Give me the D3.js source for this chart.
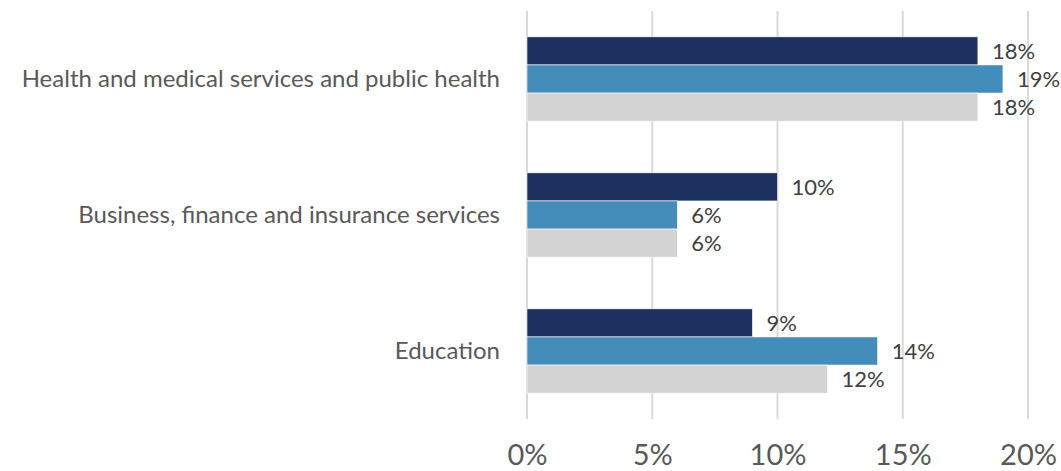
<!DOCTYPE html>
<html>
<head>
<meta charset="utf-8">
<script src="https://cdn.jsdelivr.net/npm/d3@7"></script>
<style>
  html, body { margin: 0; padding: 0; background: #ffffff; }
  svg { display: block; font-family: Lato, "Open Sans", sans-serif; }
</style>
</head>
<body>
<svg id="chart" width="1061" height="471"></svg>
<script>
const categories = ["Health and medical services and public health", "Business, finance and insurance services", "Education"];
const seriesNames = ["Series A", "Series B", "Series C"];
const seriesA = [18, 10, 9];
const seriesB = [19, 6, 14];
const seriesC = [18, 6, 12];
const tickValues = [0, 5, 10, 15, 20];
const colors = ["#1c3160", "#448dba", "#d3d3d3"];

const series = [seriesA, seriesB, seriesC];
const data = categories.map((c, i) => ({ category: c, values: series.map((s, j) => ({ key: seriesNames[j], value: s[i], idx: j })) }));

const svg = d3.select("#chart");
const margin = { top: 11, right: 33, bottom: 52, left: 527 };
const width = 1061 - margin.left - margin.right;
const height = 471 - margin.top - margin.bottom;

const g = svg.append("g").attr("transform", `translate(${margin.left},${margin.top})`);

const x = d3.scaleLinear().domain([0, 20]).range([0, 501]);
const y0 = d3.scaleBand().domain(categories).range([0, height]).paddingInner(0.38).paddingOuter(0.19);
const y1 = d3.scaleBand().domain(seriesNames).range([0, y0.bandwidth()]);

// gridlines
g.append("g").selectAll("line").data(tickValues).join("line")
  .attr("x1", d => x(d)).attr("x2", d => x(d))
  .attr("y1", 0).attr("y2", height)
  .attr("stroke", "#d9d9d9").attr("stroke-width", 2);

// x axis labels
const xAxis = d3.axisBottom(x).tickValues(tickValues).tickFormat(d => d + "%").tickSize(0).tickPadding(25);
const ax = g.append("g").attr("transform", `translate(0,${height})`).call(xAxis);
ax.select(".domain").remove();
ax.selectAll("text").attr("fill", "#595959").attr("font-size", 29).attr("font-family", "Lato, sans-serif");

// y axis labels
const yAxis = d3.axisLeft(y0).tickSize(0).tickPadding(27);
const ay = g.append("g").call(yAxis);
ay.select(".domain").remove();
ay.selectAll("text").attr("fill", "#595959").attr("font-size", 24).attr("font-family", "Lato, sans-serif");

// bars
const groups = g.append("g").selectAll("g").data(data).join("g")
  .attr("transform", d => `translate(0,${y0(d.category)})`);

groups.selectAll("rect").data(d => d.values).join("rect")
  .attr("x", x(0))
  .attr("y", d => y1(d.key))
  .attr("width", d => x(d.value) - x(0))
  .attr("height", y1.bandwidth())
  .attr("fill", d => colors[d.idx])
  .attr("stroke", "#ffffff").attr("stroke-width", 0.6);

groups.selectAll("text.val").data(d => d.values).join("text")
  .attr("class", "val")
  .attr("x", d => x(d.value) + 14)
  .attr("y", d => y1(d.key) + y1.bandwidth() / 2)
  .attr("dy", "0.35em")
  .attr("fill", "#404040")
  .attr("font-size", 22)
  .text(d => d.value + "%");
</script>
</body>
</html>
